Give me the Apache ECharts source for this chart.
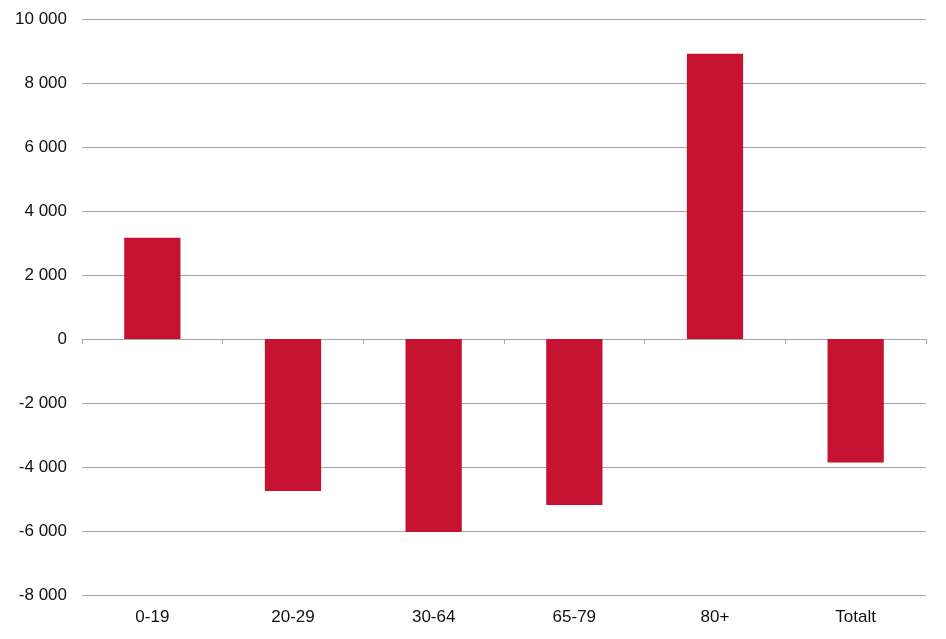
<!DOCTYPE html>
<html>
<head>
<meta charset="utf-8">
<style>
  html, body { margin: 0; padding: 0; background: #fff; }
  #main { width: 946px; height: 639px; }
</style>
<script src="https://cdn.jsdelivr.net/npm/echarts@6/dist/echarts.min.js"></script>
</head>
<body>
<div id="main"></div>
<script>
// 数据
const categories = ["0-19", "20-29", "30-64", "65-79", "80+", "Totalt"]
const values = [3165, -4750, -6030, -5185, 8915, -3860]
const yTicks = { min: -8000, max: 10000, step: 2000 }

// 千位用空格分隔
function fmt(v) {
  let s = String(Math.abs(v)).replace(/\B(?=(\d{3})+(?!\d))/g, " ")
  return (v < 0 ? "-" : "") + s
}

var myChart = echarts.init(document.getElementById('main'))

var font = { fontFamily: 'Liberation Sans, Arial, sans-serif', fontSize: 17, color: '#111' }

var option = {
  animation: false,
  grid: { left: 82, right: 20, top: 19, bottom: 44, containLabel: false },
  xAxis: [
    {
      // 底部的类别标签
      type: 'category',
      data: categories,
      position: 'bottom',
      axisLine: { show: false, onZero: false },
      axisTick: { show: false },
      axisLabel: Object.assign({ margin: 14 }, font)
    },
    {
      // 零线上的轴线和刻度
      type: 'category',
      data: categories,
      position: 'bottom',
      axisLine: { show: true, onZero: true, lineStyle: { color: '#a6a6a6', width: 1 } },
      axisTick: { show: true, length: 5, lineStyle: { color: '#a6a6a6' } },
      axisLabel: { show: false }
    }
  ],
  yAxis: {
    type: 'value',
    min: yTicks.min,
    max: yTicks.max,
    interval: yTicks.step,
    axisLine: { show: false },
    axisTick: { show: false },
    splitLine: { lineStyle: { color: '#a6a6a6', width: 1 } },
    axisLabel: Object.assign({ margin: 15, formatter: fmt }, font)
  },
  series: [
    {
      type: 'bar',
      xAxisIndex: 0,
      data: values,
      barWidth: '40%',
      itemStyle: { color: '#c41230' }
    }
  ]
}

myChart.setOption(option)
</script>
</body>
</html>
